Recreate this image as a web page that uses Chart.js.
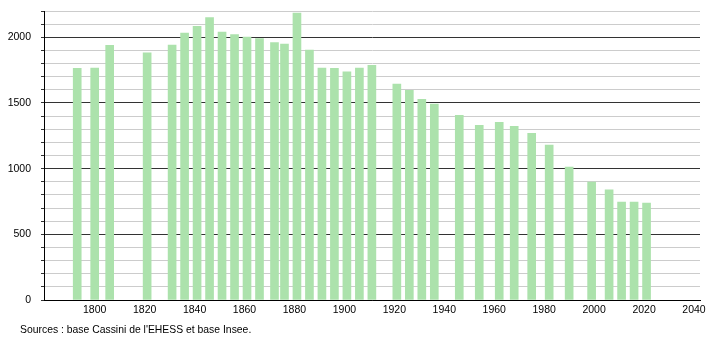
<!DOCTYPE html>
<html>
<head>
<meta charset="utf-8">
<script src="https://cdn.jsdelivr.net/npm/chart.js@4"></script>
<style>
  body { margin: 0; background: #fff; }
  #wrap { position: relative; width: 710px; height: 340px; }
  #note { position: absolute; left: 20px; top: 324px; font: 10.4px "Liberation Sans", Arial, sans-serif; color: #000; }
</style>
</head>
<body>
<div id="wrap">
  <canvas id="chart" width="710" height="340"></canvas>
  <div id="note">Sources : base Cassini de l'EHESS et base Insee.</div>
</div>
<script>
// Population by census year
const years = [1793, 1800, 1806, 1821, 1831, 1836, 1841, 1846, 1851, 1856, 1861, 1866, 1872, 1876, 1881, 1886, 1891, 1896, 1901, 1906, 1911, 1921, 1926, 1931, 1936, 1946, 1954, 1962, 1968, 1975, 1982, 1990, 1999, 2006, 2011, 2016, 2021];
const population = [1763, 1765, 1938, 1881, 1940, 2031, 2084, 2150, 2039, 2021, 2001, 1991, 1960, 1948, 2185, 1902, 1765, 1763, 1737, 1765, 1786, 1644, 1596, 1527, 1492, 1406, 1330, 1353, 1322, 1269, 1180, 1011, 897, 838, 745, 745, 737];

// Axis ticks
const xTicks = [1800, 1820, 1840, 1860, 1880, 1900, 1920, 1940, 1960, 1980, 2000, 2020, 2040];
const yTicks = [];
for (let v = 0; v <= 2200; v += 100) yTicks.push(v);

const font = { family: "'Liberation Sans', Arial, sans-serif", size: 10.5 };

new Chart(document.getElementById("chart"), {
    type: "bar",
    data: {
        datasets: [{
            data: years.map((y, i) => ({ x: y, y: population[i] })),
            backgroundColor: "rgb(172,226,172)",
            borderWidth: 0,
            barThickness: 8
        }]
    },
    options: {
        responsive: false,
        animation: false,
        layout: { padding: { left: 0, right: 10, top: 11, bottom: 20 } },
        plugins: { legend: { display: false }, tooltip: { enabled: false } },
        scales: {
            x: {
                type: "linear",
                offset: false,
                min: 1779.7,
                max: 2042.4,
                afterBuildTicks: s => { s.ticks = xTicks.map(v => ({ value: v })); },
                afterFit: s => { s.height = 20; s.paddingLeft = 0; s.paddingRight = 0; },
                grid: { display: false, drawTicks: false, offset: false },
                border: { color: "#000", width: 1 },
                ticks: { autoSkip: false, maxRotation: 0, padding: 4, color: "#000", font: font, callback: v => String(v) }
            },
            y: {
                min: 0,
                max: 2200,
                afterBuildTicks: s => { s.ticks = yTicks.map(v => ({ value: v })); },
                afterFit: s => { s.width = 44; s.paddingTop = 0; s.paddingBottom = 0; },
                grid: {
                    color: c => (c.tick && c.tick.value % 500 === 0) ? "#333" : "#ccc",
                    tickColor: "#333",
                    tickLength: 3
                },
                border: { color: "#000", width: 1 },
                ticks: {
                    autoSkip: false,
                    padding: 10,
                    color: "#000",
                    font: font,
                    callback: v => v % 500 === 0 ? String(v) : ""
                }
            }
        }
    }
});
</script>
</body>
</html>
